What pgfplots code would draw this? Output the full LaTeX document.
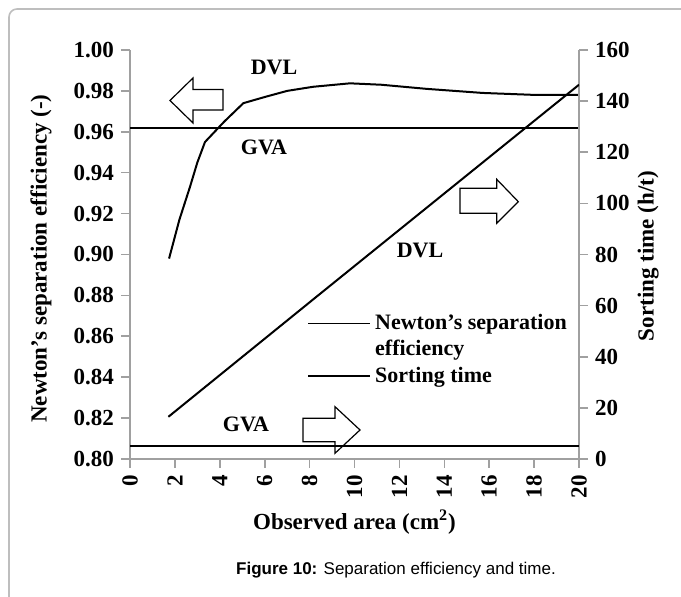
\documentclass[border=0pt]{standalone}
\usepackage{pgfplots}
\pgfplotsset{compat=1.18}
\usepackage{fontspec}
\setmainfont{Liberation Serif}
\newfontfamily\capfont{Liberation Sans}
\definecolor{axgray}{RGB}{160,160,160}
\definecolor{framegray}{RGB}{190,190,190}
\pgfplotsset{
  myaxis/.style={
    scale only axis, width=224.5pt, height=204.5pt,
    at={(65pt,69pt)}, anchor=south west,
    xmin=0, xmax=20,
    axis line style={draw=axgray, line width=0.8pt},
    tick style={draw=axgray, line width=0.8pt},
    tick align=outside, major tick length=4.5pt,
    /pgf/number format/assume math mode=true,
    tick label style={font=\bfseries\fontsize{11.5}{13}\selectfont},
    label style={font=\bfseries\fontsize{11.5}{13}\selectfont},
  }
}
\begin{document}
\begin{tikzpicture}[x=0.5pt,y=0.5pt]
\useasboundingbox (0,0) rectangle (681,597);
\draw[framegray, line width=0.8pt, rounded corners=4pt] (9,-10) -- (9,588) -- (700,588);

\begin{axis}[myaxis,
  ymin=0.8, ymax=1.0,
  axis x line*=bottom, axis y line*=left,
  xtick={0,2,4,6,8,10,12,14,16,18,20},
  ytick={0.80,0.82,0.84,0.86,0.88,0.90,0.92,0.94,0.96,0.98,1.00},
  yticklabel style={/pgf/number format/.cd, fixed, fixed zerofill, precision=2},
  xticklabel style={rotate=90, anchor=east},
  xlabel={Observed area (cm\textsuperscript{2})},
  xlabel style={at={(axis description cs:0.5,-0.154)}, anchor=center},
  ylabel={Newton's separation efficiency (-)},
  ylabel style={at={(axis description cs:-0.198,0.49)}, anchor=center},
]
\addplot[black, line width=1pt] coordinates {
 (1.74,0.898) (2.2,0.917) (2.67,0.933) (3.0,0.945) (3.34,0.955) (4.2,0.965)
 (5.05,0.974) (6.0,0.977) (7.0,0.980) (8.15,0.982) (9.8,0.9837) (11.2,0.983)
 (13.2,0.981) (15.7,0.979) (18.1,0.978) (20,0.978)};
\addplot[black, line width=1pt] coordinates {(0,0.962) (20,0.962)};
\end{axis}

\begin{axis}[myaxis,
  ymin=0, ymax=160,
  axis y line*=right, axis x line=none,
  ytick={0,20,40,60,80,100,120,140,160},
  ylabel={Sorting time (h/t)},
  every axis y label/.style={at={(axis description cs:1.154,0.496)}, rotate=90, anchor=center,
    font=\bfseries\fontsize{11.5}{13}\selectfont},
  legend cell align=left,
  legend style={draw=none, fill=none, inner sep=0pt, row sep=0pt,
    font=\bfseries\fontsize{11}{12.5}\selectfont,
    at={(axis description cs:0.395,0.365)}, anchor=north west},
  legend image code/.code={\draw[#1] (0pt,0pt) -- (31pt,0pt);},
]
\addlegendimage{black, line width=0.7pt}
\addlegendentry{Newton's separation}
\addlegendimage{empty legend}
\addlegendentry{efficiency}
\addlegendimage{black, line width=0.7pt}
\addlegendentry{Sorting time}
\addplot[black, line width=1pt, forget plot] coordinates {(1.71,16.5) (8.31,63.5) (17.6,129.4) (20,146.4)};
\addplot[black, line width=1pt, forget plot] coordinates {(0,5) (20,5)};
\end{axis}

\begin{scope}[font=\bfseries\fontsize{11}{13}\selectfont]
\node at (274,530) {DVL};
\node at (264,450) {GVA};
\node at (420,347) {DVL};
\node at (246,173) {GVA};
\end{scope}

\draw[black, line width=0.6pt] (170,496.5) -- (193,519) -- (193,507.5) -- (223,507.5) -- (223,487) -- (193,487) -- (193,474) -- cycle;
\draw[black, line width=0.6pt] (460,408.7) -- (496.7,408.7) -- (496.7,417.7) -- (518.3,395.3) -- (496.7,373.7) -- (496.7,383.7) -- (460,383.7) -- cycle;
\draw[black, line width=0.6pt] (303,178.7) -- (335,178.7) -- (335,190.3) -- (360,167) -- (335,143.7) -- (335,155.3) -- (303,155.3) -- cycle;

\node[font=\capfont\fontsize{8.5}{10}\selectfont] at (396,27) {\textbf{Figure 10:} Separation efficiency and time.};
\end{tikzpicture}
\end{document}
